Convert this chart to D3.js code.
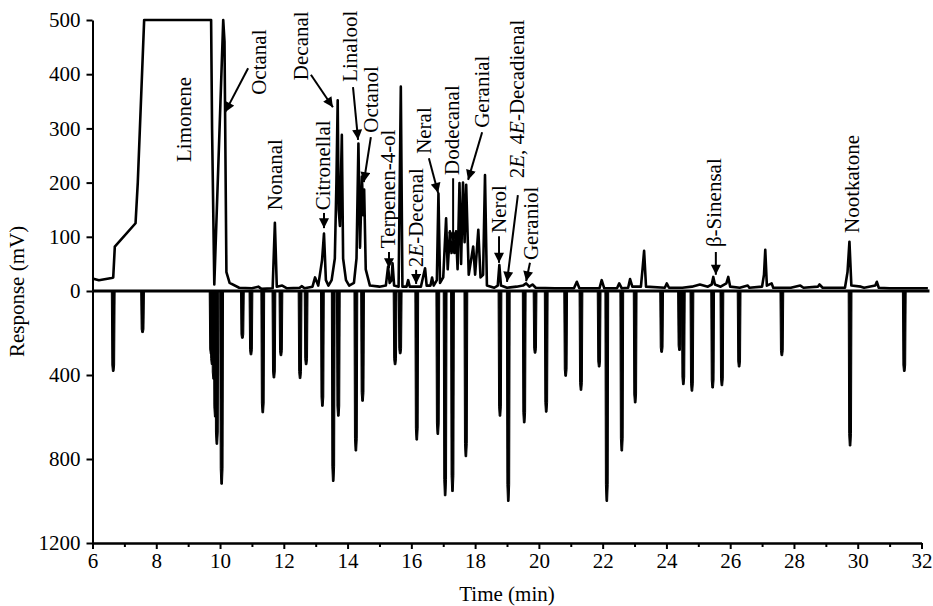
<!DOCTYPE html>
<html>
<head>
<meta charset="utf-8">
<script src="https://cdn.jsdelivr.net/npm/d3@7"></script>
<style>
  html, body { margin: 0; padding: 0; background: #fff; }
  svg { display: block; }
  text { font-family: "Liberation Serif", "Times New Roman", serif; fill: #000; }
</style>
</head>
<body>
<svg id="chart" width="933" height="606"></svg>
<script>
// ---------- DATA ----------
// Upper trace (FID response, mV): [time (min), response]
const upperTrace = [
  [6.0, 23], [6.2, 20], [6.6, 24], [6.65, 25], [6.7, 82], [7.35, 125], [7.42, 200], [7.62, 500],
  [9.72, 500], [9.75, 300], [9.82, 12], [10.1, 500], [10.14, 460], [10.2, 35], [10.3, 15],
  [10.6, 6], [11.0, 5], [11.2, 8], [11.3, 4], [11.65, 5], [11.72, 126], [11.78, 8], [11.95, 10],
  [12.1, 5], [12.5, 6], [12.56, 9], [12.65, 5], [12.9, 8], [12.98, 25], [13.08, 10], [13.2, 57],
  [13.26, 106], [13.32, 20], [13.4, 10], [13.5, 20], [13.6, 60], [13.65, 200], [13.69, 352],
  [13.72, 150], [13.76, 120], [13.82, 288], [13.86, 60], [13.95, 20], [14.05, 10], [14.2, 15],
  [14.28, 60], [14.34, 272], [14.39, 80], [14.45, 211], [14.49, 140], [14.52, 187], [14.57, 40],
  [14.7, 10], [15.0, 8], [15.2, 10], [15.27, 45], [15.32, 15], [15.38, 20], [15.41, 51],
  [15.46, 10], [15.6, 8], [15.67, 377], [15.72, 8], [15.85, 8], [15.9, 20], [15.95, 8],
  [16.3, 8], [16.43, 42], [16.48, 10], [16.6, 10], [16.65, 25], [16.7, 10], [16.8, 20],
  [16.85, 180], [16.9, 15], [17.0, 25], [17.09, 134], [17.14, 40], [17.21, 110], [17.26, 70],
  [17.31, 90], [17.35, 70], [17.4, 110], [17.45, 40], [17.51, 199], [17.56, 50], [17.62, 200],
  [17.67, 90], [17.72, 196], [17.8, 30], [17.94, 82], [18.0, 30], [18.1, 113], [18.17, 25],
  [18.25, 30], [18.31, 214], [18.37, 10], [18.6, 6], [18.71, 10], [18.76, 48], [18.81, 10],
  [19.0, 6], [19.3, 8], [19.5, 10], [19.6, 14], [19.7, 8], [19.8, 12], [19.9, 6], [20.5, 5],
  [21.1, 5], [21.19, 17], [21.27, 5], [21.9, 5], [21.97, 20], [22.05, 5], [22.45, 5],
  [22.52, 14], [22.6, 5], [22.8, 6], [22.86, 22], [22.93, 8], [23.2, 8], [23.25, 40],
  [23.3, 74], [23.36, 8], [23.95, 6], [24.01, 14], [24.08, 6], [24.5, 6], [24.8, 8],
  [25.05, 12], [25.3, 8], [25.42, 12], [25.47, 26], [25.52, 12], [25.7, 8], [25.88, 14],
  [25.94, 26], [26.0, 8], [26.3, 6], [26.55, 10], [26.6, 6], [27.0, 8], [27.06, 30],
  [27.1, 76], [27.15, 10], [27.3, 14], [27.35, 6], [27.9, 6], [28.2, 10], [28.3, 6],
  [28.75, 8], [28.8, 12], [28.9, 6], [29.6, 6], [29.68, 35], [29.74, 91], [29.8, 10],
  [30.1, 8], [30.2, 6], [30.55, 10], [30.6, 17], [30.66, 6], [31.0, 5], [32.2, 5]
];

// Lower trace (inverted spikes): retention time (min) and response
const lowerTimes = [6.65, 7.57, 9.72, 9.75, 9.8, 9.85, 9.9, 10.05, 10.7, 10.97, 11.34, 11.69,
  11.91, 12.51, 12.70, 13.21, 13.55, 13.71, 14.26, 14.47, 15.49, 15.65, 16.17, 16.83, 17.06,
  17.29, 17.71, 18.78, 19.04, 19.54, 19.88, 20.23, 20.84, 21.32, 21.89, 22.13, 22.60, 23.02,
  23.85, 24.41, 24.53, 24.80, 25.45, 25.74, 26.28, 27.62, 29.76, 31.46];
const lowerValues = [383, 198, 300, 350, 420, 600, 730, 920, 225, 304, 580, 414,
  308, 417, 351, 549, 907, 596, 762, 525, 351, 299, 710, 683, 975,
  955, 789, 596, 1002, 628, 296, 577, 406, 473, 362, 1002, 762, 533,
  292, 283, 446, 477, 462, 451, 362, 308, 738, 383];

// Tick labels
const xTickLabels = [6, 8, 10, 12, 14, 16, 18, 20, 22, 24, 26, 28, 30, 32];
const xMinorTicks = [7, 9, 11, 13, 15, 17, 19, 21, 23, 25, 27, 29, 31];
const yUpperTicks = [0, 100, 200, 300, 400, 500];
const yLowerTicks = [400, 800, 1200];

// Compound labels
const compoundNames = ["Limonene", "Octanal", "Nonanal", "Decanal", "Citronellal", "Linalool",
  "Octanol", "Terpenen-4-ol", "2E-Decenal", "Neral", "Dodecanal", "Geranial", "Nerol",
  "2E, 4E-Decadienal", "Geraniol", "β-Sinensal", "Nootkatone"];

// ---------- LAYOUT (label anchors & arrows in data units) ----------
const labelAnchors = {
  "Limonene": [8.87, 238], "Octanal": [11.22, 362], "Nonanal": [11.72, 149],
  "Decanal": [12.54, 389], "Citronellal": [13.23, 149], "Linalool": [14.08, 386],
  "Octanol": [14.73, 292], "Terpenen-4-ol": [15.27, 79], "2E-Decenal": [16.15, 44],
  "Neral": [16.40, 253], "Dodecanal": [17.27, 214], "Geranial": [18.22, 301],
  "Nerol": [18.75, 107], "2E, 4E-Decadienal": [19.31, 208], "Geraniol": [19.75, 57],
  "β-Sinensal": [25.49, 81], "Nootkatone": [29.82, 107]
};
const arrows = {
  "Octanal": [10.88, 411, 10.16, 330], "Decanal": [12.85, 399, 13.54, 339],
  "Linalool": [14.17, 376, 14.33, 279], "Octanol": [14.73, 284, 14.51, 201],
  "Terpenen-4-ol": [15.30, 72, 15.30, 42], "2E-Decenal": [16.15, 39, 16.15, 13],
  "Neral": [16.55, 245, 16.84, 181], "Dodecanal": [17.31, 208, 17.31, 90],
  "Geranial": [18.22, 293, 17.78, 205], "Nerol": [18.75, 101, 18.75, 52],
  "2E, 4E-Decadienal": [19.34, 177, 19.0, 17], "Geraniol": [19.72, 52, 19.60, 18],
  "Citronellal": [13.26, 144, 13.26, 116], "β-Sinensal": [25.55, 72, 25.55, 30]
};

// ---------- CHART ----------
const svg = d3.select("#chart");
const FONT = 21;

const x = d3.scaleLinear().domain([6, 32]).range([92.5, 921.5]);
const yUp = d3.scaleLinear().domain([0, 500]).range([291, 20]);
const yDown = d3.scaleLinear().domain([0, 1200]).range([291, 543]);

// defs: arrowhead
svg.append("defs").append("marker")
  .attr("id", "ah").attr("viewBox", "0 0 10 10")
  .attr("refX", 10).attr("refY", 5)
  .attr("markerWidth", 11).attr("markerHeight", 10)
  .attr("markerUnits", "userSpaceOnUse")
  .attr("orient", "auto")
  .append("path").attr("d", "M0,0 L10,5 L0,10 Z").attr("fill", "#000");

// Lower spikes
const spikes = lowerTimes.map((t, i) => ({ t, v: lowerValues[i] }));
svg.append("g").selectAll("path").data(spikes).join("path")
  .attr("d", d => {
    const cx = x(d.t);
    return `M${cx - 1.9},${yDown(0)} L${cx - 1.4},${yDown(d.v * 0.92)} L${cx - 0.8},${yDown(d.v)} L${cx + 0.8},${yDown(d.v)} L${cx + 1.4},${yDown(d.v * 0.92)} L${cx + 1.9},${yDown(0)} Z`;
  })
  .attr("fill", "#000").attr("stroke", "#000").attr("stroke-width", 1).attr("stroke-linejoin", "round");

// Upper trace
const line = d3.line().x(d => x(d[0])).y(d => yUp(d[1]));
svg.append("path").datum(upperTrace)
  .attr("d", line).attr("fill", "none").attr("stroke", "#000")
  .attr("stroke-width", 2.6).attr("stroke-linejoin", "round");

// zero line
svg.append("line")
  .attr("x1", x(6)).attr("x2", x(32.25))
  .attr("y1", yUp(0)).attr("y2", yUp(0))
  .attr("stroke", "#000").attr("stroke-width", 3);

// Axes
const fmt = d3.format("d");
const gUp = svg.append("g").attr("transform", `translate(${x(6)},0)`)
  .call(d3.axisLeft(yUp).tickValues(yUpperTicks).tickFormat(fmt).tickSize(6).tickSizeOuter(0).tickPadding(6));
const gDown = svg.append("g").attr("transform", `translate(${x(6)},0)`)
  .call(d3.axisLeft(yDown).tickValues(yLowerTicks).tickFormat(fmt).tickSize(6).tickSizeOuter(0).tickPadding(6));
const gX = svg.append("g").attr("transform", `translate(0,${yDown(1200)})`)
  .call(d3.axisBottom(x).tickValues(xTickLabels).tickFormat(fmt).tickSize(6).tickSizeOuter(0).tickPadding(4));
const gXm = svg.append("g").attr("transform", `translate(0,${yDown(1200)})`)
  .call(d3.axisBottom(x).tickValues(xMinorTicks).tickFormat("").tickSize(4).tickSizeOuter(0));
[gUp, gDown, gX, gXm].forEach(g => {
  g.selectAll("path.domain").attr("stroke", "#000").attr("stroke-width", 2);
  g.selectAll(".tick line").attr("stroke", "#000").attr("stroke-width", 2);
  g.selectAll("text").attr("font-family", "Liberation Serif").attr("font-size", FONT).attr("fill", "#000");
});

// Axis titles
svg.append("text").attr("transform", `translate(24,${(yUp(500) + yDown(1200)) / 2 + 10}) rotate(-90)`)
  .attr("text-anchor", "middle").attr("font-size", FONT).text("Response (mV)");
svg.append("text").attr("x", (x(6) + x(32)) / 2).attr("y", 601)
  .attr("text-anchor", "middle").attr("font-size", FONT).text("Time (min)");

// Arrows
svg.append("g").selectAll("line").data(Object.entries(arrows)).join("line")
  .attr("x1", d => x(d[1][0])).attr("y1", d => yUp(d[1][1]))
  .attr("x2", d => x(d[1][2])).attr("y2", d => yUp(d[1][3]))
  .attr("stroke", "#000").attr("stroke-width", 2).attr("marker-end", "url(#ah)");

// Compound labels (vertical)
const lab = svg.append("g").selectAll("text").data(compoundNames).join("text")
  .attr("transform", d => `translate(${x(labelAnchors[d][0])},${yUp(labelAnchors[d][1])}) rotate(-90)`)
  .attr("dy", "0.35em").attr("font-size", FONT);
lab.each(function (d) {
  const t = d3.select(this);
  const m = d.match(/^(2)(E)(, 4)(E)(-.*)$/) || d.match(/^(2)(E)(-.*)$/);
  if (m) {
    m.slice(1).forEach(part => {
      t.append("tspan").attr("font-style", part === "E" ? "italic" : null).text(part);
    });
  } else {
    t.text(d);
  }
});
</script>
</body>
</html>
